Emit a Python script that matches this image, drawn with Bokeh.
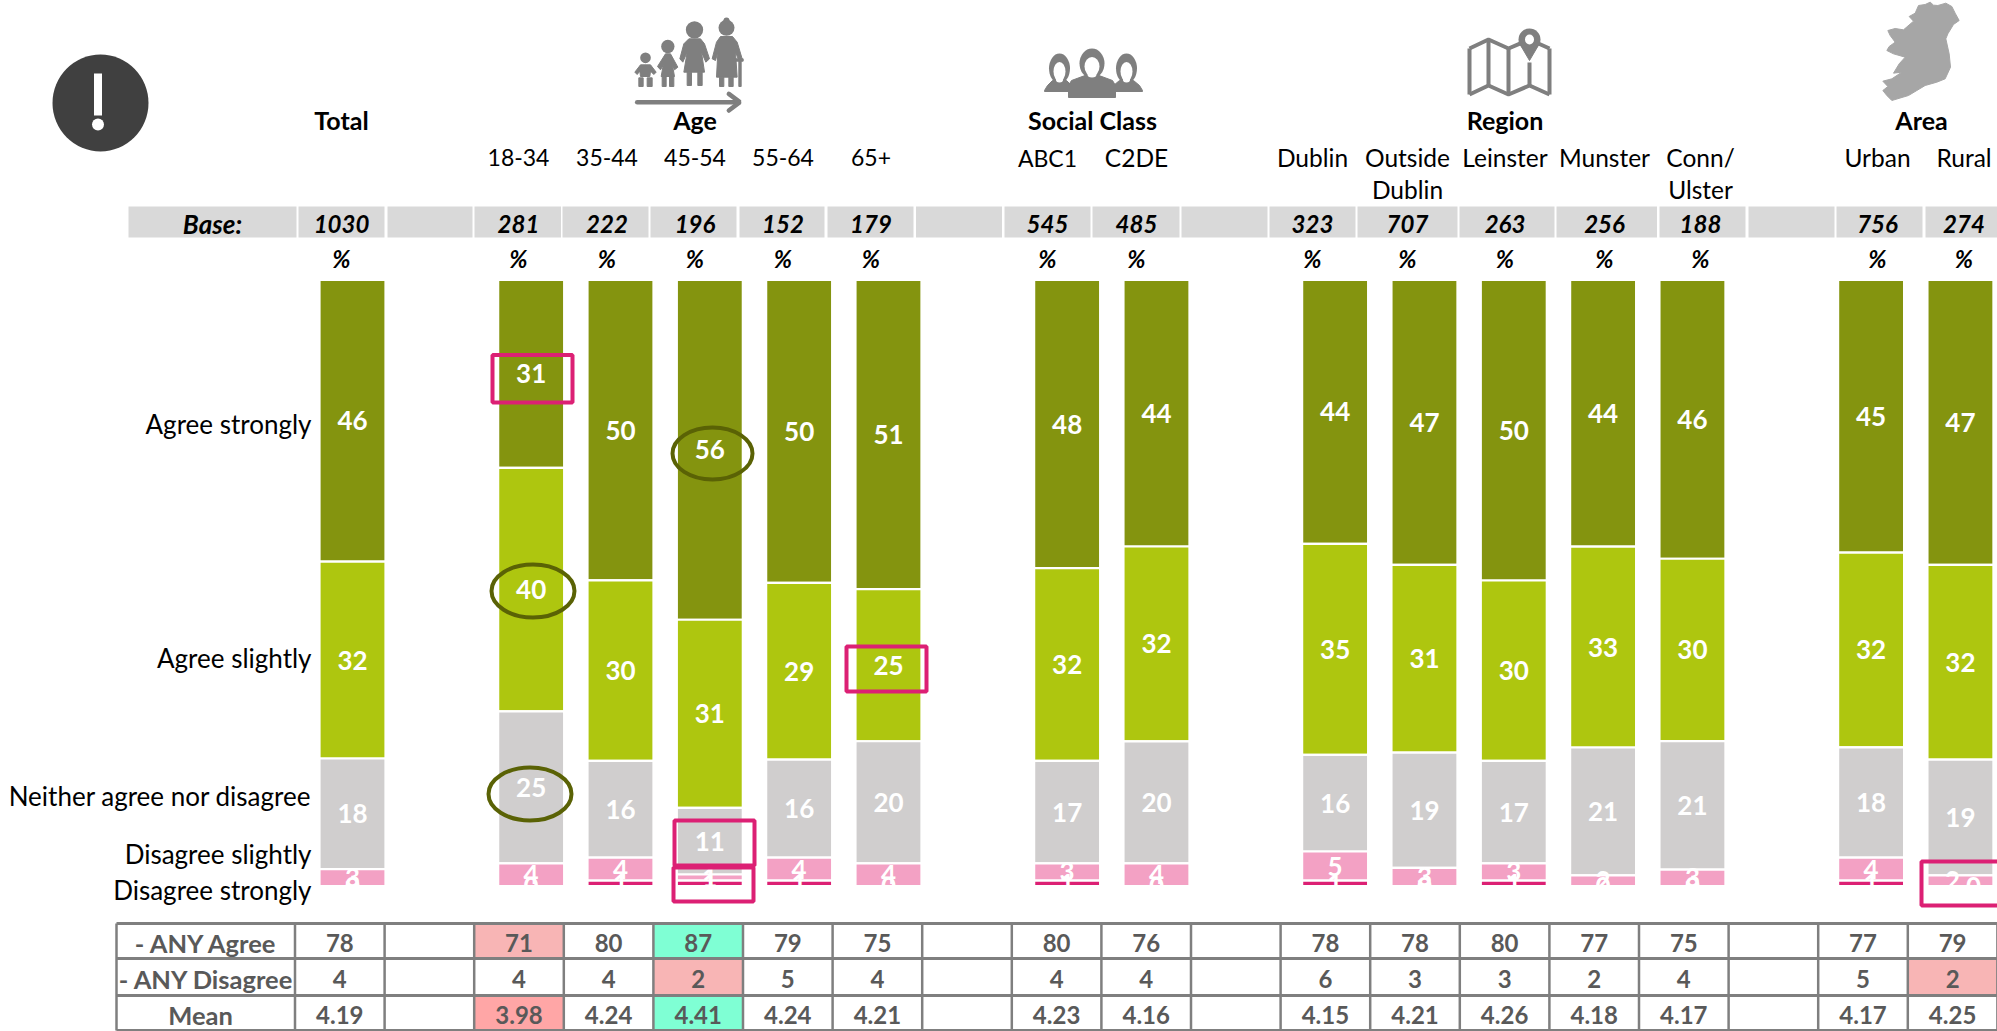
from bokeh.embed import file_html
from bokeh.resources import INLINE
from bokeh.plotting import figure
from bokeh.models import Range1d, ColumnDataSource
from bokeh.core.properties import value

# ---------------- data ----------------
bar_columns = [0, 2, 3, 4, 5, 6, 8, 9, 11, 12, 13, 14, 15, 17, 18]
agree_strongly    = [46.48, 30.99, 49.6, 56.09, 50.0, 51.0, 47.56, 43.98, 43.6, 47.0, 49.6, 44.0, 46.0, 45.0, 47.0]
agree_slightly    = [32.48, 40.19, 29.77, 31.06, 29.16, 25.1, 31.8, 32.14, 34.84, 31.0, 29.77, 33.15, 30.1, 32.14, 32.14]
neither           = [18.27, 25.1, 15.97, 11.0, 16.17, 20.16, 16.9, 20.16, 15.97, 19.0, 16.9, 21.1, 21.2, 18.2, 19.08]
disagree_slightly = [2.77, 3.72, 3.8, 1.0, 3.8, 3.72, 2.85, 3.72, 4.8, 3.0, 2.85, 1.76, 2.7, 3.8, 1.76]
disagree_strongly = [0.0, 0.0, 0.9, 0.9, 0.9, 0.0, 0.9, 0.0, 0.9, 0.0, 0.9, 0.0, 0.0, 0.9, 0.0]
series_names = ["Agree strongly", "Agree slightly", "Neither agree nor disagree", "Disagree slightly", "Disagree strongly"]
series_colors = ["#84940F", "#AEC60F", "#D0CECE", "#F3A1C4", "#DC2074"]

groups = ["Total", "Age", "Social Class", "Region", "Area"]
sub_labels = ["18-34", "35-44", "45-54", "55-64", "65+", "ABC1", "C2DE", "Dublin", "Outside\nDublin",
              "Leinster", "Munster", "Conn/\nUlster", "Urban", "Rural"]
base_values = [1030, 281, 222, 196, 152, 179, 545, 485, 323, 707, 263, 256, 188, 756, 274]
any_agree    = ["78", "71", "80", "87", "79", "75", "80", "76", "78", "78", "80", "77", "75", "77", "79"]
any_disagree = ["4", "4", "4", "2", "5", "4", "4", "4", "6", "3", "3", "2", "4", "5", "2"]
mean_scores  = ["4.19", "3.98", "4.24", "4.41", "4.24", "4.21", "4.23", "4.16", "4.15", "4.21", "4.26", "4.18", "4.17", "4.17", "4.25"]
row_names = ["- ANY Agree", "- ANY Disagree", "Mean"]

# ---------------- layout ----------------
W, H = 1997, 1031
PAGE_L, PAGE_R, PAGE_T, PAGE_B = 0, 1997, 0, 1031
COL0, COL_STEP = 352.0, 89.33
Y0, PCT = 885.5, 6.06
FONT = value("Lato")

p = figure(width=W, height=H, output_backend="svg", toolbar_location=None,
           x_axis_location=None, y_axis_location=None,
           x_range=Range1d((PAGE_L - COL0) / COL_STEP, (PAGE_R - COL0) / COL_STEP),
           y_range=Range1d(-(PAGE_B - Y0) / PCT, (Y0 - PAGE_T) / PCT),
           min_border=0, min_border_left=0, min_border_right=0, min_border_top=0, min_border_bottom=0,
           outline_line_color=None, background_fill_color="white", border_fill_color="white")
p.grid.visible = False
p.extra_x_ranges["px"] = Range1d(PAGE_L, PAGE_R)
p.extra_y_ranges["px"] = Range1d(PAGE_B, PAGE_T)
PX = dict(x_range_name="px", y_range_name="px")


def txt(xs, ys, texts, size, color="black", style="normal", align="center"):
    p.text(x=list(xs), y=list(ys), text=list(texts), text_font=FONT, text_font_size=value(f"{size}px"),
           text_font_style=style, text_color=color, text_align=align, text_baseline="middle", **PX)


def poly(points, color="#7F7F7F", ox=0.0, oy=0.0, sx=1.0, sy=1.0):
    p.patch([ox + a / sx for a, _ in points], [oy + b / sy for _, b in points],
            fill_color=color, line_color=color, line_width=1, **PX)


def disc(cx, cy, w, h, color):
    p.ellipse(x=[cx], y=[cy], width=[w], height=[h], fill_color=color, line_color=None, **PX)


# ---------------- bars ----------------
stack = [agree_strongly, agree_slightly, neither, disagree_slightly, disagree_strongly]
nudge = {(14, 3): -8, (14, 4): 13}
lab_x, lab_y, lab_t, lab_dx = [], [], [], []
for i, col in enumerate(bar_columns):
    top = sum(s[i] for s in stack)
    scale = 100.0 / top
    cur = 100.0
    for k, s in enumerate(stack):
        v = s[i] * scale
        if v > 0:
            p.vbar(x=[col], width=[66 / COL_STEP], bottom=[cur - v], top=[cur],
                   fill_color=series_colors[k], line_color="white", line_width=2.2)
        lab_x.append(col)
        lab_y.append(cur - v / 2)
        lab_t.append(f"{s[i]:.0f}")
        lab_dx.append(nudge.get((i, k), 0))
        cur -= v
p.text(x="x", y="y", text="t", x_offset="dx",
       source=ColumnDataSource(dict(x=lab_x, y=lab_y, t=lab_t, dx=lab_dx)),
       text_font=FONT, text_font_size=value("26px"), text_font_style="bold", text_color="white",
       text_align="center", text_baseline="middle")

# bar-bottom overflow is hidden in the reference: white band under the bars
p.quad(left=[PAGE_L + 300], right=[PAGE_R], top=[Y0 + 0.5], bottom=[898], fill_color="white", line_color=None, **PX)

# ---------------- side labels ----------------
txt([311] * 5, [423, 657, 795, 853, 889], series_names, 26, align="right")

# ---------------- headers ----------------
sub_x = [518, 606.5, 694.5, 782.5, 870.5, 1047, 1136, 1312, 1407, 1504.5, 1604, 1700, 1877, 1963.5]
txt([341, 694.5, 1092, 1504.5, 1921], [119] * 5, groups, 25, style="bold")
for x, lab in zip(sub_x, sub_labels):
    parts = lab.split("\n")
    size = 23 if lab[0].isdigit() or lab == "ABC1" else 24.5
    txt([x] * len(parts), [157, 189][:len(parts)], parts, size)

# ---------------- base row ----------------
cell_l = [128, 298, 387, 474, 562, 650, 739, 827, 915.5, 1004, 1092, 1181, 1269, 1357, 1459, 1556, 1659, 1748, 1836, 1925]
cell_r = [296, 384, 472, 560.5, 648, 736, 824, 913, 1001.5, 1090, 1179, 1267, 1355, 1457, 1554, 1656.5, 1745, 1834, 1922, 1997]
p.quad(left=cell_l, right=cell_r, top=[206] * 20, bottom=[237] * 20, fill_color="#D9D9D9", line_color=None, **PX)
base_x = [341] + sub_x
txt([212], [223], ["Base:"], 26, style="bold italic")
txt(base_x, [223] * 15, [str(b) for b in base_values], 24, style="bold italic")
txt(base_x, [258] * 15, ["%"] * 15, 24, style="bold italic")

# ---------------- summary table ----------------
LINE0, LSTEP = 294.5, 89.6
row_lines = [923, 958, 995, 1030]
fills = [(2, 0, "#F8B5B5"), (4, 0, "#7FFFD4"), (4, 1, "#F8B5B5"), (18, 1, "#F8B5B5"), (2, 2, "#FFA6A6"), (4, 2, "#7FFFD4")]
for col, row, c in fills:
    p.quad(left=[LINE0 + LSTEP * col], right=[LINE0 + LSTEP * (col + 1)], top=[row_lines[row]],
           bottom=[row_lines[row + 1]], fill_color=c, line_color=None, **PX)
vx = [116] + [LINE0 + LSTEP * k for k in range(20)]
p.segment(x0=vx, x1=vx, y0=[923] * len(vx), y1=[1030] * len(vx), line_color="#7F7F7F", line_width=2.5, **PX)
p.segment(x0=[116] * 4, x1=[1997] * 4, y0=row_lines, y1=row_lines, line_color="#7F7F7F", line_width=3, **PX)
TXT_GRAY = "#595959"
row_y = [942, 978, 1014]
txt([206, 206, 200], row_y, row_names, 25.5, TXT_GRAY, "bold")
table_x = [LINE0 + LSTEP * (c + 0.5) for c in bar_columns]
for y, vals in zip(row_y, [any_agree, any_disagree, mean_scores]):
    txt(table_x, [y] * 15, vals, 24, TXT_GRAY, "bold")

# ---------------- annotations ----------------
MARK_PINK, MARK_OLIVE = "#DC2074", "#5A6205"
rl = [492, 846, 674, 673, 1921]
rr = [572, 926, 754, 753, 2003]
rt = [354.5, 646, 820, 867, 861]
rb = [402, 691, 865, 901, 905]
p.quad(left=rl, right=rr, top=rt, bottom=rb, fill_color=None, line_color=MARK_PINK, line_width=4, **PX)
p.ellipse(x=[712, 532.5, 529.5], y=[453, 590.5, 793.5], width=[80, 83, 83], height=[52, 53, 53],
          fill_color=None, line_color=MARK_OLIVE, line_width=4, **PX)

# ---------------- icons ----------------
# warning badge
disc(100, 102.5, 96, 97, "#404040")
p.quad(left=[93.5], right=[101.5], top=[73], bottom=[115], fill_color="white", line_color=None, **PX)
disc(97.5, 124, 12, 12, "white")

# age icon (points in 3x crop coordinates)
AX, AY = 620, 10
def age(pts):
    poly(pts, "#7F7F7F", AX, AY, 3, 3)
def age_disc(cx, cy, r):
    disc(AX + cx / 3, AY + cy / 3, 2 * r / 3, 2 * r / 3, "#7F7F7F")
def age_box(x0, y0, x1, y1):
    age([(x0, y0), (x1, y0), (x1, y1), (x0, y1)])

age_disc(75, 142, 16)
age([(43, 185), (60, 163), (90, 163), (107, 185), (100, 192), (90, 182), (88, 198), (60, 198), (58, 182), (50, 192)])
age_box(55, 202, 68, 228)
age_box(80, 202, 95, 228)
age_disc(142, 108, 20)
age([(135, 130), (150, 130), (172, 170), (162, 178), (156, 165), (162, 198), (122, 198), (128, 165), (120, 178), (111, 168)])
age_box(125, 198, 137, 228)
age_box(147, 198, 160, 228)
age_disc(222, 58, 26)
age([(205, 85), (240, 85), (252, 100), (267, 145), (256, 155), (243, 125), (252, 185), (190, 185), (200, 125), (187, 155), (178, 145), (190, 100)])
age_box(200, 185, 213, 225)
age_box(232, 185, 245, 225)
age_disc(318, 52, 24)
age_disc(318, 30, 9)
age([(300, 78), (336, 78), (350, 95), (365, 145), (355, 150), (345, 125), (350, 200), (288, 200), (292, 125), (285, 150), (275, 145), (288, 95)])
age_box(297, 200, 310, 228)
age_box(325, 200, 338, 228)
age_box(355, 148, 362, 228)
age_box(345, 145, 368, 152)
p.line([AX + 50 / 3, AX + 355 / 3], [AY + 275 / 3] * 2, line_color="#7F7F7F", line_width=4.5, line_cap="round", **PX)
p.line([AX + 325 / 3, AX + 358 / 3, AX + 325 / 3], [AY + 250 / 3, AY + 275 / 3, AY + 300 / 3],
       line_color="#7F7F7F", line_width=4.5, line_cap="round", **PX)

# social class icon
for cx, head_top, head_w, face_w, shoulder, body_bot in [(1059, 54, 21, 12, 30, 91), (1126, 54, 21, 12, 32, 91), (1091.5, 49, 25, 15, 47, 97)]:
    disc(cx, head_top + 14, head_w, 30, "#7F7F7F")
    disc(cx, head_top + 17, face_w, 19, "white")
    p.patch([cx - shoulder / 2, cx - shoulder / 2 + 3, cx - 7, cx + 7, cx + shoulder / 2 - 3, cx + shoulder / 2, cx + shoulder / 2, cx - shoulder / 2],
            [head_top + 36, head_top + 31, head_top + 26, head_top + 26, head_top + 31, head_top + 36, body_bot, body_bot],
            fill_color="#7F7F7F", line_color="#7F7F7F", **PX)
    disc(cx, head_top + 25, face_w * 0.6, 6, "white")

# region (map) icon
mx = [1469, 1488, 1508, 1529, 1549]
p.line(mx, [48, 39, 48, 39, 48], line_color="#7F7F7F", line_width=4, **PX)
p.line(mx, [94, 85, 94, 85, 94], line_color="#7F7F7F", line_width=4, **PX)
p.segment(x0=mx, x1=mx, y0=[48, 39, 48, 62, 48], y1=[94, 85, 94, 85, 94], line_color="#7F7F7F", line_width=4, **PX)
poly([(1517, 36), (1540, 36), (1529, 60)], "white")
disc(1529, 39, 22, 22, "#7F7F7F")
poly([(1519, 43), (1539, 43), (1529, 60)], "#7F7F7F")
disc(1529, 39, 9, 10, "white")

# area (Ireland) icon
ireland = [(215, 5), (225, 14), (238, 15), (262, 8), (280, 18), (290, 38), (302, 60), (285, 72), (268, 100), (262, 115),
           (272, 160), (276, 200), (260, 235), (235, 245), (200, 255), (175, 270), (150, 285), (100, 300), (85, 285),
           (73, 270), (88, 258), (73, 242), (100, 235), (130, 215), (105, 218), (122, 190), (140, 170), (105, 160),
           (85, 150), (92, 138), (110, 125), (95, 105), (88, 90), (110, 84), (135, 88), (165, 62), (152, 48), (170, 38),
           (180, 15), (200, 12)]
poly(ireland, "#A6A6A6", 1858, 0, 3, 3)

open("out.html", "w").write(file_html(p, INLINE))
